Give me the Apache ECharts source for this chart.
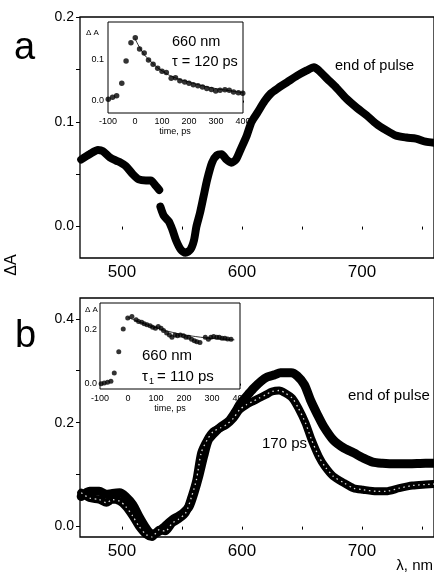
<!DOCTYPE html>
<html>
<head>
<meta charset="utf-8">
<script src="https://cdn.jsdelivr.net/npm/echarts@6/dist/echarts.min.js"></script>
<style>html,body{margin:0;padding:0;background:#fff}#c{width:434px;height:584px}</style>
</head>
<body>
<div id="c"></div>
<script>
// ---------- Panel a: main spectrum (end of pulse) ----------
const specA_wl = [466,473,480,484,490,495,499,503,509,514,520,524,528,531,531.5,532,535,539,542,545,549,553,557,560,562,565,568,571,575,579,583,587,591,595,599,604,608,613,619,624,630,638,646,654,660,664,671,679,687,696,704,712,720,728,737,745,753,760];
const specA_dA = [0.064,0.069,0.073,0.072,0.066,0.063,0.061,0.058,0.050,0.045,0.044,0.044,0.039,0.035,null,0.019,0.010,0.005,-0.003,-0.013,-0.022,-0.025,-0.022,-0.013,0.000,0.013,0.029,0.045,0.061,0.068,0.069,0.064,0.061,0.064,0.074,0.087,0.100,0.109,0.120,0.127,0.132,0.138,0.144,0.149,0.152,0.149,0.141,0.132,0.122,0.113,0.106,0.098,0.092,0.087,0.085,0.084,0.081,0.080];

// ---------- Panel b: end of pulse ----------
const specB1_wl = [466,473,481,487,492,498,503,509,514,520,525,531,536,542,547,551,556,560,564,568,572,578,583,589,594,599,605,610,616,621,627,632,641,646,652,657,663,668,676,685,693,701,709,717,728,739,753,760];
const specB1_dA = [0.058,0.068,0.068,0.062,0.064,0.065,0.058,0.042,0.020,-0.003,-0.015,-0.009,0.001,0.013,0.020,0.026,0.039,0.065,0.097,0.135,0.167,0.183,0.193,0.203,0.219,0.238,0.254,0.267,0.280,0.288,0.292,0.296,0.296,0.290,0.273,0.244,0.215,0.193,0.167,0.151,0.142,0.132,0.124,0.122,0.121,0.121,0.122,0.122];
// ---------- Panel b: 170 ps ----------
const specB2_wl = [466,473,481,487,492,498,503,509,514,520,525,531,536,542,547,553,558,562,566,571,576,582,587,593,598,604,609,614,620,625,631,636,642,647,653,658,664,669,676,685,693,701,712,720,731,742,753,760];
const specB2_dA = [0.065,0.055,0.052,0.046,0.052,0.049,0.039,0.020,0.001,-0.015,-0.020,-0.006,-0.009,0.007,0.014,0.026,0.058,0.090,0.142,0.167,0.183,0.190,0.196,0.209,0.225,0.235,0.241,0.247,0.254,0.260,0.262,0.257,0.247,0.228,0.199,0.167,0.135,0.116,0.097,0.084,0.074,0.071,0.068,0.068,0.074,0.079,0.081,0.082];

// ---------- Inset a (660 nm kinetics) ----------
const insetA_t  = [-99,-83,-68,-49,-33,-15,1,17,34,50,67,84,100,116,134,150,166,184,200,216,233,250,266,283,299,315,333,349,365,383,399];
const insetA_dA = [0.003,0.008,0.012,0.042,0.096,0.140,0.152,0.125,0.115,0.098,0.088,0.078,0.071,0.068,0.054,0.055,0.048,0.045,0.042,0.038,0.036,0.033,0.029,0.027,0.023,0.025,0.026,0.025,0.021,0.019,0.018];
const insetA_fitT  = [0,25,50,100,150,200,250,300,350,400];
const insetA_fitDA = [0.150,0.120,0.100,0.072,0.055,0.045,0.036,0.029,0.024,0.019];

// ---------- Inset b (660 nm kinetics) ----------
const insetB_t  = [-96,-85,-73,-61,-49,-33,-17,-1,14,29,38,49,58,68,79,88,98,108,118,127,138,148,157,168,177,187,198,207,217,227,237,246,257,276,287,296,306,317,326,336,346,356,368];
const insetB_dA = [0.000,0.002,0.005,0.009,0.040,0.119,0.203,0.244,0.250,0.238,0.231,0.228,0.223,0.219,0.215,0.210,0.206,0.213,0.206,0.198,0.188,0.181,0.173,0.181,0.178,0.181,0.178,0.173,0.173,0.165,0.160,0.156,0.153,0.173,0.165,0.173,0.175,0.173,0.173,0.169,0.169,0.166,0.165];
const insetB_fitT  = [0,50,100,150,200,250,300,380];
const insetB_fitDA = [0.246,0.226,0.208,0.193,0.182,0.174,0.168,0.163];

// ---------- Tick labels ----------
const mainXTicks = [500,600,700];
const mainXMinor = [500,550,600,650,700,750];
const aYTicks = [0.0,0.1,0.2];
const aYMinor = [0.0,0.05,0.1,0.15,0.2];
const bYTicks = [0.0,0.2,0.4];
const bYMinor = [0.0,0.1,0.2,0.3,0.4];
const insetXTicks = [-100,0,100,200,300,400];
const insetAYTicks = [0.0,0.1];
const insetBYTicks = [0.0,0.2];

const FONT = '"Liberation Sans", Arial, Helvetica, sans-serif';
const pairs = (xs, ys) => xs.map((x, i) => [x, ys[i] === null ? null : ys[i]]);

function xAx(grid, min, max, labels, ticks, fs, margin, tl) {
  return {
    type: 'value', gridIndex: grid, min: min, max: max, splitNumber: 3,
    axisLine: {show: false},
    splitLine: {show: false},
    axisTick: {show: true, inside: false, length: tl, customValues: ticks, lineStyle: {color: '#000', width: 1}},
    axisLabel: {show: true, customValues: labels, fontSize: fs, fontFamily: FONT, color: '#000', margin: margin,
      formatter: v => (labels.indexOf(v) >= 0 ? String(v) : '')}
  };
}
function yAx(grid, min, max, labels, ticks, fs, margin, tl) {
  return {
    type: 'value', gridIndex: grid, min: min, max: max, splitNumber: 3,
    axisLine: {show: false},
    splitLine: {show: false},
    axisTick: {show: true, inside: false, length: tl, customValues: ticks, lineStyle: {color: '#000', width: 1}},
    axisLabel: {show: true, customValues: labels, fontSize: fs, fontFamily: FONT, color: '#000', margin: margin,
      formatter: v => (labels.some(l => Math.abs(l - v) < 1e-9) ? v.toFixed(1) : '')}
  };
}

const chart = echarts.init(document.getElementById('c'), null, {renderer: 'canvas'});
const option = {
  animation: false,
  backgroundColor: '#fff',
  grid: [
    {left: 80, top: 17, width: 358, height: 241, show: true, borderColor: '#000', borderWidth: 1.3, backgroundColor: 'transparent'},
    {left: 80, top: 298, width: 358, height: 239, show: true, borderColor: '#000', borderWidth: 1.3, backgroundColor: 'transparent'},
    {left: 108, top: 22, width: 135, height: 91, show: true, borderColor: '#000', borderWidth: 1, backgroundColor: '#fff', z: 3},
    {left: 100, top: 303, width: 140, height: 86, show: true, borderColor: '#000', borderWidth: 1, backgroundColor: '#fff', z: 3}
  ],
  xAxis: [
    xAx(0, 465, 760, mainXTicks, mainXMinor, 17, 6, 3),
    xAx(1, 465, 760, mainXTicks, mainXMinor, 17, 6, 3),
    xAx(2, -100, 400, insetXTicks, insetXTicks, 9, 4, 2),
    xAx(3, -100, 400, insetXTicks, insetXTicks, 9, 5, 2)
  ],
  yAxis: [
    yAx(0, -0.03, 0.2, aYTicks, aYMinor, 14, 6, 4),
    yAx(1, -0.02, 0.44, bYTicks, bYMinor, 14, 6, 4),
    yAx(2, -0.03, 0.19, insetAYTicks, insetAYTicks, 9, 4, 2),
    yAx(3, -0.02, 0.30, insetBYTicks, insetBYTicks, 9, 3, 2)
  ],
  series: [
    {type: 'line', xAxisIndex: 0, yAxisIndex: 0, data: pairs(specA_wl, specA_dA), showSymbol: false, smooth: 0.25,
      connectNulls: false, lineStyle: {color: '#000', width: 8, cap: 'round', join: 'round'}, z: 2},
    {type: 'line', xAxisIndex: 1, yAxisIndex: 1, data: pairs(specB1_wl, specB1_dA), showSymbol: false, smooth: 0.25,
      lineStyle: {color: '#000', width: 9, cap: 'round', join: 'round'}, z: 2},
    {type: 'line', xAxisIndex: 1, yAxisIndex: 1, data: pairs(specB2_wl, specB2_dA), showSymbol: false, smooth: 0.25,
      lineStyle: {color: '#000', width: 8, cap: 'round', join: 'round'}, z: 3},
    {type: 'line', xAxisIndex: 1, yAxisIndex: 1, data: pairs(specB2_wl, specB2_dA), showSymbol: false, smooth: 0.25,
      lineStyle: {color: '#fff', width: 1.3, type: [1.5, 3.5], opacity: 0.85}, z: 4},
    {type: 'line', xAxisIndex: 2, yAxisIndex: 2, data: pairs(insetA_fitT, insetA_fitDA), showSymbol: false, smooth: true,
      lineStyle: {color: '#000', width: 0.8}, z: 5},
    {type: 'scatter', xAxisIndex: 2, yAxisIndex: 2, data: pairs(insetA_t, insetA_dA), symbol: 'circle', symbolSize: 5.5,
      itemStyle: {color: '#000'}, clip: false, z: 6},
    {type: 'line', xAxisIndex: 3, yAxisIndex: 3, data: pairs(insetB_fitT, insetB_fitDA), showSymbol: false, smooth: true,
      lineStyle: {color: '#000', width: 0.8}, z: 5},
    {type: 'scatter', xAxisIndex: 3, yAxisIndex: 3, data: pairs(insetB_t, insetB_dA), symbol: 'circle', symbolSize: 5,
      itemStyle: {color: '#000'}, clip: false, z: 6}
  ],
  graphic: [
    {type: 'text', left: 14, top: 30, z: 10, style: {text: 'a', font: '38px ' + FONT, fill: '#000'}},
    {type: 'text', left: 15, top: 318, z: 10, style: {text: 'b', font: '38px ' + FONT, fill: '#000'}},
    {type: 'text', x: 12, y: 265, rotation: Math.PI / 2, z: 10,
      style: {text: 'ΔA', font: '16px ' + FONT, fill: '#000', align: 'center', verticalAlign: 'middle'}},
    {type: 'text', x: 433, y: 566, z: 10, style: {text: 'λ, nm', font: '15px ' + FONT, fill: '#000', align: 'right', verticalAlign: 'middle'}},
    {type: 'text', x: 335, y: 66, z: 10, style: {text: 'end of pulse', font: '14.5px ' + FONT, fill: '#000', verticalAlign: 'middle'}},
    {type: 'text', x: 348, y: 396, z: 10, style: {text: 'end of pulse', font: '15px ' + FONT, fill: '#000', verticalAlign: 'middle'}},
    {type: 'text', x: 262, y: 444, z: 10, style: {text: '170 ps', font: '15px ' + FONT, fill: '#000', verticalAlign: 'middle'}},
    // inset a texts
    {type: 'text', x: 86, y: 33, z: 10, style: {text: 'Δ A', font: '8px ' + FONT, fill: '#000', verticalAlign: 'middle'}},
    {type: 'text', x: 172, y: 42, z: 10, style: {text: '660 nm', font: '14.5px ' + FONT, fill: '#000', verticalAlign: 'middle'}},
    {type: 'text', x: 172, y: 62, z: 10, style: {text: 'τ = 120 ps', font: '14.5px ' + FONT, fill: '#000', verticalAlign: 'middle'}},
    {type: 'text', x: 175, y: 132, z: 10, style: {text: 'time, ps', font: '9px ' + FONT, fill: '#000', align: 'center', verticalAlign: 'middle'}},
    // inset b texts
    {type: 'text', x: 85, y: 310, z: 10, style: {text: 'Δ A', font: '8px ' + FONT, fill: '#000', verticalAlign: 'middle'}},
    {type: 'text', x: 142, y: 356, z: 10, style: {text: '660 nm', font: '15px ' + FONT, fill: '#000', verticalAlign: 'middle'}},
    {type: 'text', x: 142, y: 377, z: 10, style: {text: 'τ', font: '15px ' + FONT, fill: '#000', verticalAlign: 'middle'}},
    {type: 'text', x: 149, y: 382, z: 10, style: {text: '1', font: '9px ' + FONT, fill: '#000', verticalAlign: 'middle'}},
    {type: 'text', x: 157, y: 377, z: 10, style: {text: '= 110 ps', font: '15px ' + FONT, fill: '#000', verticalAlign: 'middle'}},
    {type: 'text', x: 170, y: 409, z: 10, style: {text: 'time, ps', font: '9px ' + FONT, fill: '#000', align: 'center', verticalAlign: 'middle'}}
  ]
};
chart.setOption(option);
</script>
</body>
</html>
